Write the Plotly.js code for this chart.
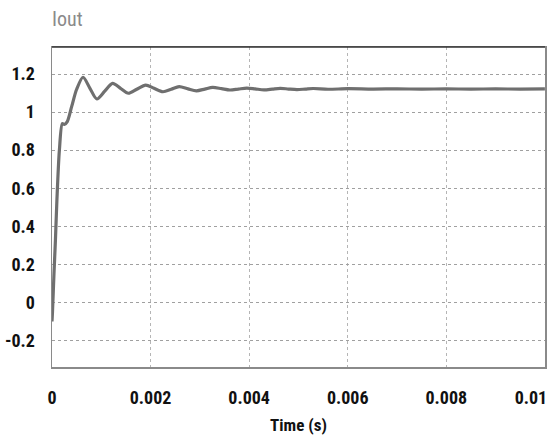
<!DOCTYPE html>
<html>
<head>
<meta charset="utf-8">
<script src="https://cdn.plot.ly/plotly-3.0.1.min.js"></script>
<style>html,body{margin:0;padding:0;background:#fff;}#chart{width:556px;height:441px;}</style>
</head>
<body>
<div id="chart"></div>
<script>
// Time (s)
const timeS = [0, 0.00001, 0.00004, 0.00007, 0.0001, 0.00015, 0.00021, 0.00025, 0.00031, 0.0004, 0.0005, 0.00063,
  0.00077, 0.00091, 0.00107, 0.00123, 0.00139, 0.00155, 0.00172, 0.0019, 0.00207, 0.00225, 0.00242, 0.00258,
  0.00276, 0.00293, 0.0031, 0.00326, 0.00344, 0.00361, 0.00378, 0.00395, 0.00412, 0.0043, 0.00447, 0.00463,
  0.0048, 0.00497, 0.00514, 0.0053, 0.0056, 0.006, 0.0065, 0.007, 0.0075, 0.008, 0.0085, 0.009, 0.0095, 0.01];
// Iout
const iout = [-0.1, -0.05, 0.15, 0.33, 0.54, 0.80, 0.94, 0.935, 0.95, 1.03, 1.12, 1.183,
  1.125, 1.069, 1.11, 1.151, 1.125, 1.099, 1.12, 1.142, 1.125, 1.107, 1.12, 1.134,
  1.122, 1.112, 1.121, 1.130, 1.123, 1.116, 1.121, 1.126, 1.122, 1.117, 1.121, 1.125,
  1.121, 1.118, 1.121, 1.124, 1.12, 1.123, 1.121, 1.122, 1.121, 1.122, 1.121, 1.122, 1.121, 1.122];
const xTickVals = [0, 0.002, 0.004, 0.006, 0.008, 0.01];
const xTickText = ['0', '0.002', '0.004', '0.006', '0.008', ''];
const xLastTickVal = [0.01];
const xLastTickText = ['0.01'];
const yTickVals = [-0.2, 0, 0.2, 0.4, 0.6, 0.8, 1, 1.2];
const yTickText = ['-0.2', '0', '0.2', '0.4', '0.6', '0.8', '1', '1.2'];

const FONT = '"Roboto Condensed", Roboto, sans-serif';
const XRANGE = [0, 0.010002];
const tickFont = {family: FONT, size: 18, color: '#111', weight: 'bold'};

const trace = {
  x: timeS, y: iout, type: 'scatter', mode: 'lines',
  line: {color: '#6f6f6f', width: 3.2, shape: 'spline', smoothing: 0.8},
  hoverinfo: 'skip'
};
// same data on the overlaying axis that carries the shifted last tick label (invisible)
const traceAxis2 = {
  x: timeS, y: iout, type: 'scatter', mode: 'lines', xaxis: 'x2', yaxis: 'y',
  opacity: 0, line: {color: '#6f6f6f', width: 1}, hoverinfo: 'skip'
};

const layout = {
  width: 556, height: 441,
  margin: {l: 52, r: 11, t: 47, b: 74},
  paper_bgcolor: '#ffffff', plot_bgcolor: '#ffffff',
  showlegend: false,
  title: {text: 'Iout', x: 52/556, xref: 'container', xanchor: 'left', y: 1 - 19/441, yref: 'container', yanchor: 'middle',
    font: {family: FONT, size: 20, color: '#8a8a8a'}},
  xaxis: {
    range: XRANGE, tickmode: 'array', tickvals: xTickVals, ticktext: xTickText,
    showgrid: true, gridcolor: '#b5b5b5', griddash: 'dot', gridwidth: 1,
    zeroline: false, showline: true, linecolor: '#8a8a8a', linewidth: 1.5, mirror: true,
    ticks: 'outside', ticklen: 14, tickcolor: 'rgba(0,0,0,0)',
    tickfont: tickFont,
    title: {text: 'Time (s)', standoff: 12, font: {family: FONT, size: 17, color: '#111', weight: 'bold'}}
  },
  xaxis2: {
    overlaying: 'x', anchor: 'y', side: 'bottom', range: XRANGE,
    tickmode: 'array', tickvals: xLastTickVal, ticktext: xLastTickText,
    ticklabelshift: -14, ticklabeloverflow: 'allow',
    showgrid: false, zeroline: false, showline: false,
    ticks: 'outside', ticklen: 14, tickcolor: 'rgba(0,0,0,0)',
    tickfont: tickFont
  },
  yaxis: {
    range: [-0.339, 1.342], tickmode: 'array', tickvals: yTickVals, ticktext: yTickText,
    showgrid: true, gridcolor: '#a0a0a0', griddash: 'dot', gridwidth: 1,
    zeroline: false, showline: true, linecolor: '#8a8a8a', linewidth: 1.5, mirror: true,
    ticks: 'outside', ticklen: 12, tickcolor: 'rgba(0,0,0,0)',
    tickfont: tickFont
  },
  shapes: [{type: 'line', xref: 'paper', yref: 'paper', x0: 0, x1: 1, y0: 1, y1: 1, line: {color: '#333', width: 1.5}}]
};

Plotly.newPlot('chart', [traceAxis2, trace], layout, {displayModeBar: false, staticPlot: true});
</script>
</body>
</html>
